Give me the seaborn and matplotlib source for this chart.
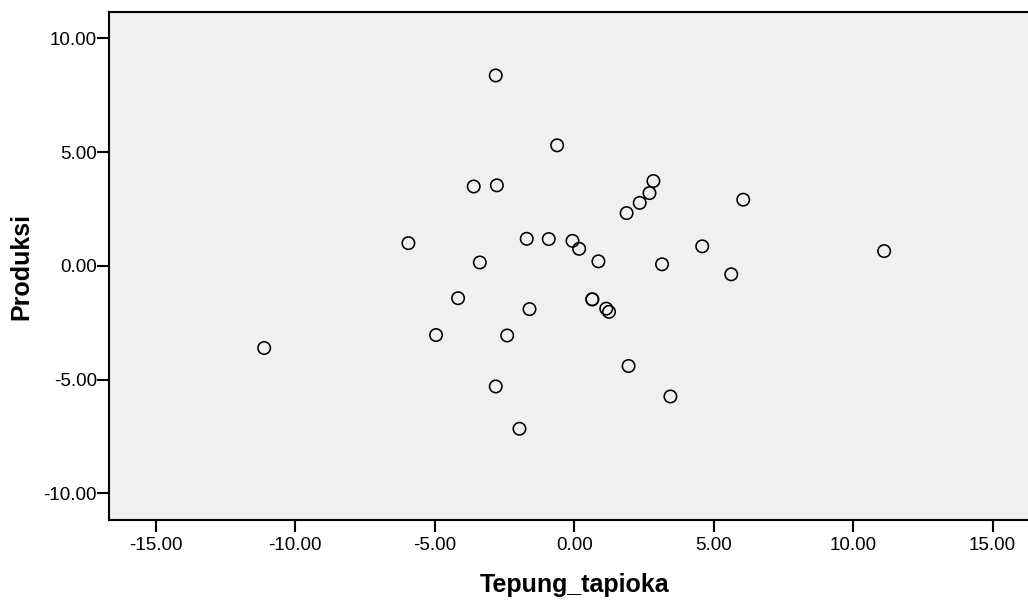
import matplotlib
matplotlib.use("Agg")
import matplotlib.pyplot as plt
import seaborn as sns
import pandas as pd

tepung_tapioka = [-2.81, -0.61, -3.60, -2.77, 2.84, 2.70, 2.35, 1.88, 6.06, -5.94,
                  -1.70, -0.91, -0.06, 0.18, 4.59, 0.87, -3.38, 3.15, 5.63, -4.16,
                  -1.60, 0.65, 0.65, 1.15, 1.25, -4.95, -2.40, 1.95, -2.81, 3.45,
                  -1.96, -11.11, 11.11]
produksi = [8.37, 5.30, 3.49, 3.54, 3.73, 3.20, 2.77, 2.32, 2.91, 1.00,
            1.19, 1.18, 1.10, 0.75, 0.86, 0.20, 0.15, 0.07, -0.37, -1.42,
            -1.90, -1.47, -1.47, -1.88, -2.02, -3.04, -3.06, -4.40, -5.30, -5.74,
            -7.16, -3.61, 0.65]

x_ticks = [-15, -10, -5, 0, 5, 10, 15]
y_ticks = [-10, -5, 0, 5, 10]

df = pd.DataFrame({"Tepung_tapioka": tepung_tapioka, "Produksi": produksi})

sns.set_style("white")
plt.rcParams['font.family'] = ['Liberation Sans', 'DejaVu Sans']

fig = plt.figure(figsize=(10.28, 6.03), dpi=100)
W, H = 1028, 603
left, right, top, bottom = 109.3, 1039.0, 12.0, 520.0
ax = fig.add_axes([left / W, (H - bottom) / H, (right - left) / W, (bottom - top) / H])
ax.set_facecolor("#f0f0f0")

sns.scatterplot(data=df, x="Tepung_tapioka", y="Produksi", ax=ax,
                facecolor="none", edgecolor="black", linewidth=1.15, s=80,
                marker="o", zorder=3)

ax.set_xlim(-16.66, 16.66)
ax.set_ylim(-11.17, 11.16)
ax.set_xticks(x_ticks)
ax.set_yticks(y_ticks)
ax.set_xticklabels([f"{v:.2f}" for v in x_ticks])
ax.set_yticklabels([f"{v:.2f}" for v in y_ticks])

for s in ax.spines.values():
    s.set_color("black")
    s.set_linewidth(1.5)
    s.set_visible(True)

ax.tick_params(axis="x", direction="out", length=8.5, width=1.5, pad=3.5,
               labelsize=13.5, colors="black", bottom=True)
ax.tick_params(axis="y", direction="out", length=8.5, width=1.5, pad=0.5,
               labelsize=13.5, colors="black", left=True)

ax.set_xlabel("Tepung_tapioka", fontsize=18, fontweight="bold", color="black")
ax.set_ylabel("Produksi", fontsize=18, fontweight="bold", color="black")
ax.xaxis.set_label_coords((574.5 - left) / (right - left), -(573 - bottom) / (bottom - top))
ax.yaxis.set_label_coords(-(left - 33) / (right - left), 0.5)

fig.savefig("out.png", dpi=100)
